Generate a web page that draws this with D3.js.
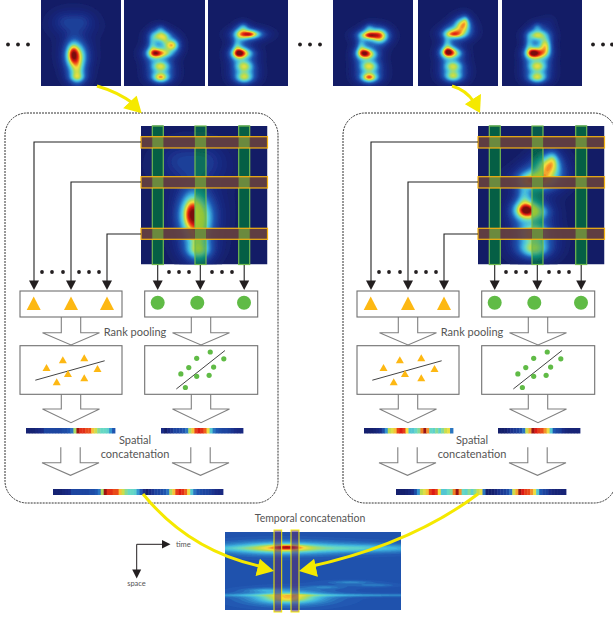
<!DOCTYPE html>
<html>
<head>
<meta charset="utf-8">
<script src="https://cdn.jsdelivr.net/npm/d3@7"></script>
<style>
html, body { margin: 0; padding: 0; background: #fff; overflow: hidden; }
text { font-family: Lato, "Open Sans", sans-serif; fill: #555; }
</style>
</head>
<body>
<script>
var width = 613,
    height = 617;

// heat blobs: [x, y, rx, ry, amplitude], frame is 80x86
var frameA1 = [[32,54,3,5.5,0.58],[35,55,6.5,7.5,0.5],[36,69,4,8,0.4],[36,77,4.5,2.8,0.32],[23,20,8,6,0.12],[41,20,8,6,0.12],[33,28,14,5,0.05]];
var frameA2 = [[36,36,5.5,3.4,0.58],[36,29,3,3,0.18],[31,53,5.5,3.4,0.62],[31,53,2.4,1.6,0.24],[47,45,4,3.4,0.66],[36,66,5.5,3.4,0.6],[36,77,5.5,3.4,0.62],[36,77,2.4,1.4,0.14],[28,45,2.5,6,0.26],[40,53,5,2.5,0.3],[40,40,2,3,0.12]];
var frameA3 = [[41,34,7.5,3,0.62],[41,34,4,1.3,0.28],[33,34,4,4,0.26],[35,27,3,3,0.22],[31,53,4.5,3.4,0.62],[31,53,2.4,1.6,0.24],[37,53,6,3,0.34],[29,46,2.5,5,0.26],[36,66,5.5,3.6,0.58],[36,77,5.5,3.6,0.6]];
var frameB1 = [[37,35,6.5,3,0.62],[37,35,4,1.3,0.24],[47,36,4.5,4.4,0.58],[36,28,3,3,0.22],[31,53,4.5,3.4,0.62],[31,53,2.4,1.6,0.22],[37,54,5,3,0.34],[28,46,2.5,5,0.26],[36,66,5.5,3.4,0.6],[36,77,5.5,3.4,0.64],[36,77,3,1.4,0.2]];
var frameB2 = [[37,33,6.5,3.4,0.62],[35,34,4,1.3,0.22],[44,25,4.5,4.4,0.62],[47,21,2,3,0.24],[30,52,4.5,3.4,0.64],[30,52,2.2,1.6,0.28],[37,53,5,3,0.34],[29,44,2.5,6,0.26],[35,66,5.5,3.4,0.56],[35,76,5.5,3.4,0.58]];
var frameB3 = [[35,35,5.5,3,0.54],[35,27,3,3,0.22],[31,53,4.5,3.4,0.64],[31,53,2.4,1.6,0.24],[37,53,5,3,0.38],[43,46,3.4,5.5,0.6],[27,44,2.5,6,0.26],[35,66,5.5,3.4,0.58],[35,77,5.5,3.4,0.62],[47,22,5,5,0.06]];
var frameTemporal = [[55,16,24,3,0.38],[62,15,8,1.2,0.36],[130,16,45,2.4,0.22],[8,16,22,1.6,0.1],[63,65,20,3.6,0.26],[63,66,14,2.6,0.26],[88,63,90,0.8,0.14],[100,55,10,1,0.08],[125,50,12,1,0.1],[150,53,12,1,0.08],[40,58,10,1,0.1]];

// pooled strips, one value per cell
var stripA1 = [0.05,0.05,0.05,0.08,0.1,0.12,0.2,0.2,0.2,0.2,0.2,0.2,0.22,0.22,0.25,0.3,0.6,1.05,0.92,0.92,0.88,0.88,0.75,0.65,0.55,0.5,0.5,0.48,0.35,0.25];
var stripA2 = [0.12,0.02,0.1,0.15,0.2,0.2,0.22,0.25,0.3,0.6,0.75,0.9,0.95,0.92,0.85,0.7,0.45,0.3,0.25,0.22,0.2,0.2,0.18,0.15,0.12,0.1,0.1];
var stripB1 = [0.03,0.03,0.03,0.05,0.08,0.12,0.22,0.35,0.62,0.68,0.75,0.9,0.95,0.9,0.72,0.45,0.45,0.5,0.55,0.82,1.05,0.8,0.5,0.48,0.55,0.48,0.55,0.65,0.7,0.3];
var stripB2 = [0.02,0.02,0.03,0.08,0.14,0.16,0.18,0.22,0.3,0.65,0.78,1.05,0.95,0.9,0.88,0.8,0.7,0.45,0.25,0.2,0.18,0.12,0.08,0.06,0.06,0.06,0.06];

// rank pooling scatter panels, percent of the panel
var triX = [26,42,63,76,47,63,36];
var triY = [45,29,25,47,57,66,74];
var triLine = [[15,71],[83,31]];
var dotX = [58,46,70,39,61,32,46,57,36];
var dotY = [13,26,27,45,44,58,63,61,86];
var dotLine = [[28,89],[71,10]];

var heatStops = [0,0.12,0.25,0.4,0.5,0.62,0.72,0.85,0.95,1.1];
var heatColors = ["#131c66","#1a2c86","#1f55b0","#3fb4e0","#66d8c4","#b8dc50","#f8e040","#f0601c","#dc1a14","#7a1010"];
var heatColor = d3.scaleLinear().domain(heatStops).range(heatColors).clamp(true);

var barStops = [0,0.12,0.3,0.5,0.7,1];
var barColors = ["#075a4e","#07604f","#0a8a78","#4fb07a","#8fc53c","#a4c832"];
var barColor = d3.scaleLinear().domain(barStops).range(barColors).clamp(true);

var levels = d3.range(0.03, 1.12, 0.025);

var svg = d3.select("body")
    .append("svg")
    .attr("width", width)
    .attr("height", height);

var defs = svg.append("defs");
defs.append("filter").attr("id", "soft")
    .append("feGaussianBlur").attr("stdDeviation", 0.5);

var clipCount = 0;

// each blob has a tight core and a wide halo, halo share 0 means core only
function field(blobs, w, h, base, halo) {
    var n = w*2, m = h*2, values = new Array(n*m);
    for (var j = 0; j < m; j++) {
        for (var i = 0; i < n; i++) {
            var v = base;
            blobs.forEach(function(b) {
                var dx = (i/2 - b[0])/b[2], dy = (j/2 - b[1])/b[3];
                var d = dx*dx + dy*dy;
                v += b[4]*((1 - halo)*Math.exp(-d/2) + halo*Math.exp(-d/(2*1.9*1.9)));
            });
            values[j*n + i] = v;
        }
    }
    return {n: n, m: m, values: values};
}

// draws filled contours of the blobs, clipped to box [x0, y0, x1, y1]
function drawHeat(blobs, fw, fh, base, halo, frame, color, box) {
    var f = field(blobs, fw, fh, base, halo);
    var sx = (frame[2] - frame[0])/f.n, sy = (frame[3] - frame[1])/f.m;
    var id = "clip" + (clipCount++);
    var b = box || frame;
    defs.append("clipPath").attr("id", id).append("rect")
        .attr("x", b[0]).attr("y", b[1]).attr("width", b[2] - b[0]).attr("height", b[3] - b[1]);
    var outer = svg.append("g").attr("clip-path", "url(#" + id + ")");
    outer.append("rect")
        .attr("x", b[0]).attr("y", b[1]).attr("width", b[2] - b[0]).attr("height", b[3] - b[1])
        .attr("fill", color(base));
    var inner = outer.append("g").attr("filter", "url(#soft)")
        .append("g")
        .attr("transform", "translate(" + frame[0] + "," + frame[1] + ") scale(" + sx + "," + sy + ")");
    var contours = d3.contours().size([f.n, f.m]).thresholds(levels)(f.values);
    inner.selectAll("path").data(contours.filter(function(c) { return c.value > base; }))
        .enter().append("path")
        .attr("d", d3.geoPath())
        .attr("fill", function(c) { return color(c.value); });
}

function drawStrip(values, x0, x1, y0, y1) {
    var x = d3.scaleBand().domain(d3.range(values.length)).range([x0, x1]);
    svg.append("g").selectAll("rect").data(values).enter().append("rect")
        .attr("x", function(d, i) { return x(i); })
        .attr("y", y0)
        .attr("width", x.bandwidth() + 0.4)
        .attr("height", y1 - y0)
        .attr("fill", function(d) { return heatColor(d); });
}

function dots(xs, y) {
    svg.append("g").selectAll("circle").data(xs).enter().append("circle")
        .attr("cx", function(d) { return d; })
        .attr("cy", y)
        .attr("r", 1.9)
        .attr("fill", "#231f20");
}

function arrowDown(g, x, y) {
    g.append("path").attr("d", "M" + (x-5) + "," + (y-9.5) + "L" + (x+5) + "," + (y-9.5) + "L" + x + "," + y + "Z")
        .attr("fill", "#231f20");
}

function hollowArrow(g, cx, top, shoulder, tip) {
    var s = 9.7, w = 28.5;
    g.append("path")
        .attr("d", "M" + (cx-s) + "," + top + "V" + shoulder + "H" + (cx-w) + "L" + cx + "," + tip +
            "L" + (cx+w) + "," + shoulder + "H" + (cx+s) + "V" + top)
        .attr("fill", "#fff")
        .attr("stroke", "#808080")
        .attr("stroke-width", 1.1);
}

function drawGroup(dx, bigBlobs, s1, s2, s1x, longX, boxX, textX) {
    var frame = [141 + dx, 126, 267.5 + dx, 264.5];

    svg.append("rect")
        .attr("x", boxX).attr("y", 113).attr("width", 273).attr("height", 390)
        .attr("rx", 22).attr("ry", 22)
        .attr("fill", "none")
        .attr("stroke", "#333")
        .attr("stroke-width", 1)
        .attr("stroke-dasharray", "2,1");

    drawHeat(bigBlobs, 80, 86, 0, 0.42, frame, heatColor);

    var greens = [[152.3,163.3],[195,206],[238.7,249.7]];
    var browns = [[136.7,148],[176.7,188],[228.3,239.3]];

    greens.forEach(function(b, i) {
        var box = [b[0] + dx, 126, b[1] + dx, 264.5];
        if (i == 1) {
            drawHeat(bigBlobs, 80, 86, 0, 0.42, frame, barColor, box);
        } else {
            svg.append("rect").attr("x", box[0]).attr("y", 125.5).attr("width", 11).attr("height", 139)
                .attr("fill", "#055f45");
        }
        svg.append("rect").attr("x", box[0]).attr("y", 126).attr("width", 11).attr("height", 138.5)
            .attr("fill", "none").attr("stroke", "#72bb50").attr("stroke-width", 1.2);
    });

    browns.forEach(function(b) {
        svg.append("rect").attr("x", 141 + dx).attr("y", b[0]).attr("width", 126.5).attr("height", b[1] - b[0])
            .attr("fill", "#66403f").attr("fill-opacity", 0.92);
        greens.forEach(function(c) {
            svg.append("rect").attr("x", c[0] + dx).attr("y", b[0]).attr("width", 11).attr("height", b[1] - b[0])
                .attr("fill", "#6b8a3e");
        });
        svg.append("rect").attr("x", 141 + dx).attr("y", b[0]).attr("width", 126.5).attr("height", b[1] - b[0])
            .attr("fill", "none").attr("stroke", "#f5b311").attr("stroke-width", 1.2);
    });

    // connectors
    var g = svg.append("g");
    var feeds = [[34,142],[71,182],[107,234]];
    feeds.forEach(function(f) {
        g.append("path").attr("d", "M" + (141 + dx) + "," + f[1] + "H" + (f[0] + dx) + "V282")
            .attr("fill", "none").attr("stroke", "#222").attr("stroke-width", 1.1);
        arrowDown(g, f[0] + dx, 290);
    });
    [157.7,200.3,244.2].forEach(function(x) {
        g.append("line").attr("x1", x + dx).attr("x2", x + dx).attr("y1", 265).attr("y2", 282)
            .attr("stroke", "#222").attr("stroke-width", 1.1);
        arrowDown(g, x + dx, 290);
    });
    dots([42,52,63,79,89,99,169,179,189,212,222,232].map(function(x) { return x + dx; }), 272);

    // block arrows
    [71, 201].forEach(function(cx) {
        hollowArrow(g, cx + dx, 317, 332.7, 345);
        hollowArrow(g, cx + dx, 394.3, 409, 422.7);
        hollowArrow(g, cx + dx - 0.5, 447.3, 462.7, 475.3);
    });

    // panels
    var pA = [20 + dx, 122 + dx], pB = [144.7 + dx, 257.7 + dx];
    [pA, pB].forEach(function(p) {
        [[291,317],[345.7,394.3]].forEach(function(r) {
            g.append("rect").attr("x", p[0]).attr("y", r[0]).attr("width", p[1] - p[0]).attr("height", r[1] - r[0])
                .attr("fill", "#fff").attr("stroke", "#707070").attr("stroke-width", 1.1);
        });
    });

    [33.7,71,107].forEach(function(x) {
        g.append("path").attr("d", "M" + (x + dx - 7) + ",310L" + (x + dx + 7) + ",310L" + (x + dx) + ",296.5Z")
            .attr("fill", "#fdb813");
    });
    [157.7,197.3,244].forEach(function(x) {
        g.append("circle").attr("cx", x + dx).attr("cy", 302.7).attr("r", 7).attr("fill", "#60bb46");
    });

    var ax = d3.scaleLinear().domain([0,100]).range(pA);
    var bx = d3.scaleLinear().domain([0,100]).range(pB);
    var py = d3.scaleLinear().domain([0,100]).range([345.7,394.3]);
    var lineA = d3.line().x(function(d) { return ax(d[0]); }).y(function(d) { return py(d[1]); });
    var lineB = d3.line().x(function(d) { return bx(d[0]); }).y(function(d) { return py(d[1]); });

    g.append("path").attr("d", lineA(triLine)).attr("stroke", "#444").attr("stroke-width", 1).attr("fill", "none");
    g.append("path").attr("d", lineB(dotLine)).attr("stroke", "#444").attr("stroke-width", 1).attr("fill", "none");

    triX.forEach(function(d, i) {
        var x = ax(d), y = py(triY[i]);
        g.append("path").attr("d", "M" + (x-4) + "," + (y+3.5) + "L" + (x+4) + "," + (y+3.5) + "L" + x + "," + (y-3.5) + "Z")
            .attr("fill", "#fdb813");
    });
    dotX.forEach(function(d, i) {
        g.append("circle").attr("cx", bx(d)).attr("cy", py(dotY[i])).attr("r", 2.6).attr("fill", "#60bb46");
    });

    // strips
    drawStrip(s1, s1x, s1x + 89, 428, 433.5);
    drawStrip(s2, 161 + dx, 243 + dx, 428, 433.5);
    drawStrip(s1.concat(s2), longX, longX + 170, 489, 495);

    // labels
    var t = svg.append("g").attr("text-anchor", "middle").attr("font-size", 11);
    t.append("text").attr("x", textX).attr("y", 336).text("Rank pooling");
    t.append("text").attr("x", textX).attr("y", 444).text("Spatial");
    t.append("text").attr("x", textX).attr("y", 458).text("concatenation");
}

function yellowArrow(from, via, to, h1, h2, w) {
    svg.append("path")
        .attr("d", "M" + from + "Q" + via + " " + to)
        .attr("fill", "none").attr("stroke", "#f5e900").attr("stroke-width", w);
    svg.append("path")
        .attr("d", "M" + to + "L" + h1 + "L" + h2 + "Z")
        .attr("fill", "#f5e900");
}

// top row of frames
[[frameA1,41,121],[frameA2,124,205],[frameA3,208,288],[frameB1,333,413],[frameB2,418,498],[frameB3,502,582]].forEach(function(d) {
    drawHeat(d[0], 80, 86, 0, 0.42, [d[1], 0, d[2], 86], heatColor);
});
dots([8,18,28,300,310,320,593,603,612], 44.5);

drawGroup(0, frameA1, stripA1, stripA2, 26, 53, 5, 135);
drawGroup(337, frameB2, stripB1, stripB2, 364, 396, 343, 472);

// temporal map
drawHeat(frameTemporal, 176, 78, 0.24, 0.35, [225,532,401,610], heatColor);

[[274,281.7],[291,299]].forEach(function(b) {
    svg.append("rect").attr("x", b[0]).attr("y", 530).attr("width", b[1] - b[0]).attr("height", 82)
        .attr("fill", "#5a2f70").attr("fill-opacity", 0.55)
        .attr("stroke", "#f5e900").attr("stroke-width", 1);
});

svg.append("text").attr("x", 310).attr("y", 522).attr("text-anchor", "middle").attr("font-size", 10.5)
    .text("Temporal concatenation");
svg.append("text").attr("x", 176).attr("y", 546.5).attr("font-size", 7.5).text("time");
svg.append("text").attr("x", 136.5).attr("y", 586).attr("text-anchor", "middle").attr("font-size", 7.5).text("space");

svg.append("path").attr("d", "M162,544.3H136.7V571").attr("fill", "none").attr("stroke", "#231f20").attr("stroke-width", 1);
svg.append("path").attr("d", "M162,540L170.5,544.3L162,548.6Z").attr("fill", "#231f20");
svg.append("path").attr("d", "M132.2,569.5L141.2,569.5L136.7,578.5Z").attr("fill", "#231f20");

// yellow arrows
yellowArrow([97,86], [118,92], [134,104], [136.7,95.7], [123.3,108.3], 3);
svg.append("path").attr("d", "M136.7,95.7L141.7,113.3L123.3,108.3Z").attr("fill", "#f5e900");
yellowArrow([452,86], [466,90], [474,102], [481,94], [465,104.3], 3);
svg.append("path").attr("d", "M481,94L480,113L465,104.3Z").attr("fill", "#f5e900");
yellowArrow([143,494], [190,552], [264,567], [260,559], [255.7,576], 3);
svg.append("path").attr("d", "M260,559L274,571L255.7,576Z").attr("fill", "#f5e900");
yellowArrow([478,494], [410,545], [308,567], [314,559], [317.7,576.7], 3);
svg.append("path").attr("d", "M314,559L299,571L317.7,576.7Z").attr("fill", "#f5e900");
</script>
</body>
</html>
